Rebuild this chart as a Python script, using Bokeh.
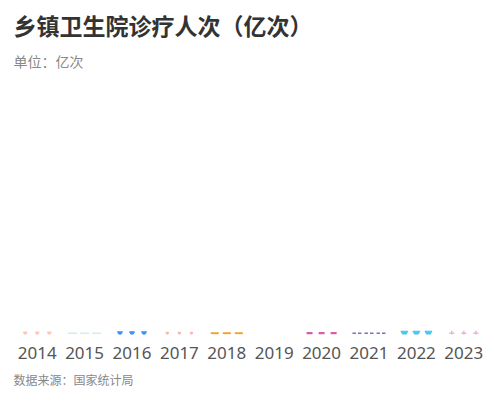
from bokeh.plotting import figure
from bokeh.models import FactorRange, Range1d, Title, ColumnDataSource
from bokeh.transform import dodge
from bokeh.embed import file_html
from bokeh.resources import INLINE

# ---- data ----
years = ["2014", "2015", "2016", "2017", "2018", "2019", "2020", "2021", "2022", "2023"]
icon_colors = ["#fbc6b6", "#cff0ee", "#3f94f4", "#f6b8b0", "#f5a21c",
               "#ffffff", "#d45fa8", "#7a70c6", "#47c8f2", "#ebb2d4"]
icon_markers = ["inverted_triangle", "dash", "inverted_triangle", "inverted_triangle", "dash",
                "dash", "dash", "dash", "inverted_triangle", "cross"]
icon_sizes = [4, 9, 5, 3, 8, 6, 6, 3.5, 7, 5]
icon_lw = [1, 1.5, 1, 1, 2, 1, 2.5, 1.5, 1, 1.5]
icon_base = [0] * len(years)
icon_slots = [-0.254, 0.0, 0.254]
pair_split = [-0.058, 0.058]   # icons drawn as two strokes (2021)
paired = ["2021"]

title_text = "乡镇卫生院诊疗人次（亿次）"
subtitle_text = "单位：亿次"
source_text = "数据来源：国家统计局"

single = [i for i, y in enumerate(years) if y not in paired]
double = [i for i, y in enumerate(years) if y in paired]

def cds(idx):
    return ColumnDataSource(dict(
        year=[years[i] for i in idx], y=[icon_base[i] for i in idx],
        color=[icon_colors[i] for i in idx], marker=[icon_markers[i] for i in idx],
        size=[icon_sizes[i] for i in idx], lw=[icon_lw[i] for i in idx]))

src1 = cds(single)
src2 = cds(double)

p = figure(width=491, height=394, x_range=FactorRange(*years, range_padding=0),
           y_range=Range1d(-0.5, 100), y_axis_location=None,
           output_backend="svg", toolbar_location=None,
           min_border_left=13, min_border_right=4,
           min_border_top=0, min_border_bottom=0)
p.title.text = ""

for off in icon_slots:
    p.scatter(x=dodge("year", off, range=p.x_range), y="y", source=src1,
              marker="marker", size="size", fill_color="color", line_color="color",
              line_width="lw")
    for sp in pair_split:
        p.scatter(x=dodge("year", off + sp, range=p.x_range), y="y", source=src2,
                  marker="marker", size="size", fill_color="color", line_color="color",
                  line_width="lw")

p.outline_line_color = None
p.xgrid.grid_line_color = None
p.ygrid.grid_line_color = None
p.background_fill_color = "white"
p.border_fill_color = "white"

ax = p.xaxis[0]
ax.axis_line_color = None
ax.major_tick_line_color = None
ax.minor_tick_line_color = None
ax.major_label_text_font = "Noto Sans"
ax.major_label_text_font_size = "17px"
ax.major_label_text_color = "#555555"
ax.major_label_standoff = 6

sub = Title(text=subtitle_text, align="left", text_font="Noto Sans CJK SC",
            text_font_size="14px", text_color="#888888", text_font_style="normal",
            offset=0, standoff=14)
p.add_layout(sub, "above")
main = Title(text=title_text, align="left", text_font="Noto Sans CJK SC",
             text_font_size="23px", text_color="#333333", text_font_style="bold",
             offset=0, standoff=0)
p.add_layout(main, "above")
spacer = Title(text=" ", align="left", text_font_size="3px", standoff=0, offset=0)
p.add_layout(spacer, "above")

srct = Title(text=source_text, align="left", text_font="Noto Sans CJK SC",
             text_font_size="12px", text_color="#888888", text_font_style="normal",
             offset=0, standoff=14)
p.add_layout(srct, "below")

open("out.html", "w").write(file_html(p, INLINE))
